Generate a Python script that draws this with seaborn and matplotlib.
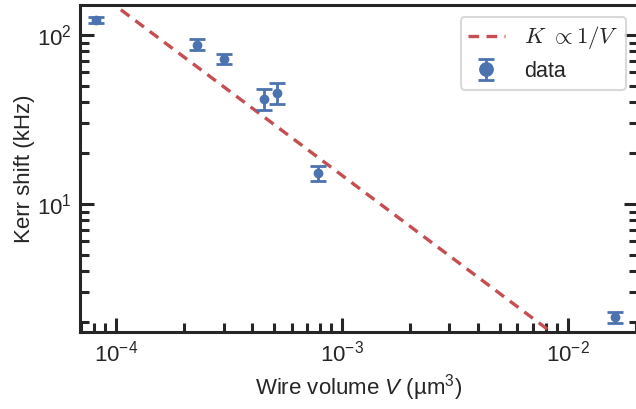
import numpy as np
import pandas as pd
import matplotlib
matplotlib.use("Agg")
import matplotlib.pyplot as plt
import seaborn as sns

# Data
volume = [8.2e-5, 2.28e-4, 3.02e-4, 4.53e-4, 5.18e-4, 7.83e-4, 1.62e-2]   # µm^3
kerr = [122.0, 87.3, 72.1, 41.8, 45.4, 15.2, 2.14]                      # kHz
kerr_err = [5.0, 6.5, 4.8, 5.7, 6.5, 1.5, 0.17]

fit_coeff = 0.0148                    # K = fit_coeff / V
fit_volume = [5e-5, 3e-2]

sns.set_theme(style="ticks")
plt.rcParams["font.family"] = ["Liberation Sans", "DejaVu Sans"]
plt.rcParams["mathtext.fontset"] = "custom"
plt.rcParams["mathtext.rm"] = "Liberation Sans"
plt.rcParams["mathtext.it"] = "Liberation Sans:italic"
plt.rcParams["mathtext.bf"] = "Liberation Sans:bold"

blue = sns.color_palette("deep")[0]
red = sns.color_palette("deep")[3]

fig = plt.figure(figsize=(6.36, 4.09), dpi=100)
ax = fig.add_axes([80 / 636, 77 / 409, 558 / 636, 327 / 409])

fit_df = pd.DataFrame({"V": fit_volume,
                       "K": [fit_coeff / v for v in fit_volume]})
sns.lineplot(data=fit_df, x="V", y="K", ax=ax, color=red, lw=2.4,
             linestyle=(0, (3.2, 2.2)), label=r"$K\ \propto 1/V$")

ax.errorbar(volume, kerr, yerr=kerr_err, fmt="o", color=blue, ms=6,
            elinewidth=2, capsize=6, capthick=2, label="data")

ax.set_xscale("log")
ax.set_yscale("log")
ax.set_xlim(6.94e-5, 2.05e-2)
ax.set_ylim(1.75, 150)

ax.set_xlabel(r"Wire volume $V$ (µm$^3$)", fontsize=16, labelpad=4)
ax.set_ylabel("Kerr shift (kHz)", fontsize=16, labelpad=1)

for sp in ax.spines.values():
    sp.set_linewidth(2.2)
    sp.set_color("#262626")
ax.tick_params(which="both", direction="in", right=True, top=False,
               color="#262626", labelsize=16)
ax.tick_params(which="major", length=10, width=2.2, pad=6)
ax.tick_params(which="minor", length=6.5, width=2.2)

leg = ax.legend(loc="upper right", bbox_to_anchor=(0.998, 0.997), fontsize=15.5,
                frameon=True, markerscale=1.6, handlelength=1.7,
                borderpad=0.35, labelspacing=0.45, handletextpad=0.9)
for t in leg.get_texts():
    if "propto" in t.get_text():
        t.set_math_fontfamily("cm")
        t.set_fontsize(16.5)
leg.get_frame().set_edgecolor("#d0d0d0")
leg.get_frame().set_linewidth(1.5)

fig.savefig("out.png", dpi=100)
